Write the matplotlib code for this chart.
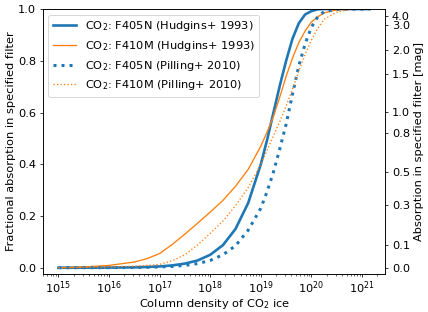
import numpy as np
import matplotlib.pyplot as plt

plt.rcParams['font.size'] = 12

# log10 of column density (cm^-2)
log_n = [15.0, 15.5, 16.0, 16.5, 16.75, 17.0, 17.25, 17.5, 17.75, 18.0, 18.25, 18.5,
         18.75, 19.0, 19.125, 19.25, 19.375, 19.5, 19.625, 19.75, 19.875, 20.0, 20.125,
         20.25, 20.5, 20.75, 21.0, 21.15]

# fractional absorption in each filter
f405n_hudgins = [0.0, 0.0002, 0.0005, 0.0016, 0.0029, 0.005, 0.009, 0.016, 0.028, 0.05, 0.087, 0.15,
                 0.25, 0.40, 0.495, 0.60, 0.704, 0.80, 0.885, 0.945, 0.979, 0.992, 0.999,
                 1.0, 1.0, 1.0, 1.0, 1.0]
f410m_hudgins = [0.0, 0.003, 0.009, 0.022, 0.035, 0.055, 0.09, 0.13, 0.172, 0.215, 0.26, 0.315,
                 0.38, 0.47, 0.525, 0.585, 0.66, 0.74, 0.81, 0.87, 0.915, 0.95, 0.97,
                 0.985, 0.997, 1.0, 1.0, 1.0]
f405n_pilling = [0.0, 0.0001, 0.0003, 0.001, 0.0017, 0.003, 0.005, 0.009, 0.016, 0.028, 0.05, 0.085,
                 0.145, 0.23, 0.295, 0.37, 0.46, 0.555, 0.67, 0.78, 0.865, 0.93, 0.97,
                 0.99, 0.999, 1.0, 1.0, 1.0]
f410m_pilling = [0.0, 0.001, 0.003, 0.006, 0.009, 0.013, 0.027, 0.05, 0.088, 0.133, 0.18, 0.24,
                 0.31, 0.40, 0.455, 0.51, 0.565, 0.625, 0.69, 0.76, 0.825, 0.88, 0.925,
                 0.96, 0.988, 0.998, 1.0, 1.0]

# magnitudes shown on the right axis
mag_ticks = [0.0, 0.1, 0.3, 0.5, 0.8, 1.0, 1.5, 2.0, 3.0, 4.0]

N = 10**np.array(log_n)

fig, ax = plt.subplots(figsize=(428 / 68, 312 / 68), dpi=68)
fig.subplots_adjust(left=0.10, right=0.90, bottom=0.122, top=0.971)

ax.plot(N, f405n_hudgins, color='tab:blue', lw=2.8, label='CO$_2$: F405N (Hudgins+ 1993)')
ax.plot(N, f410m_hudgins, color='tab:orange', lw=1.4, label='CO$_2$: F410M (Hudgins+ 1993)')
ax.plot(N, f405n_pilling, color='tab:blue', lw=3.2, ls=':', label='CO$_2$: F405N (Pilling+ 2010)')
ax.plot(N, f410m_pilling, color='tab:orange', lw=1.4, ls=':', label='CO$_2$: F410M (Pilling+ 2010)')

ax.set_xscale('log')
ax.set_ylim(-0.024, 1.0)
ax.tick_params(axis='x', pad=2)
ax.set_xlabel('Column density of CO$_2$ ice', labelpad=1.5)
ax.set_ylabel('Fractional absorption in specified filter', labelpad=2)
ax.legend(loc='upper left')

# right axis in magnitudes
ax2 = ax.twinx()
ax2.set_ylim(ax.get_ylim())
ax2.set_yticks([1 - 10**(-0.4 * m) for m in mag_ticks])
ax2.set_yticklabels([f'{m:.1f}' for m in mag_ticks])
ax2.set_ylabel('Absorption in specified filter [mag]')

plt.savefig('out.png')
